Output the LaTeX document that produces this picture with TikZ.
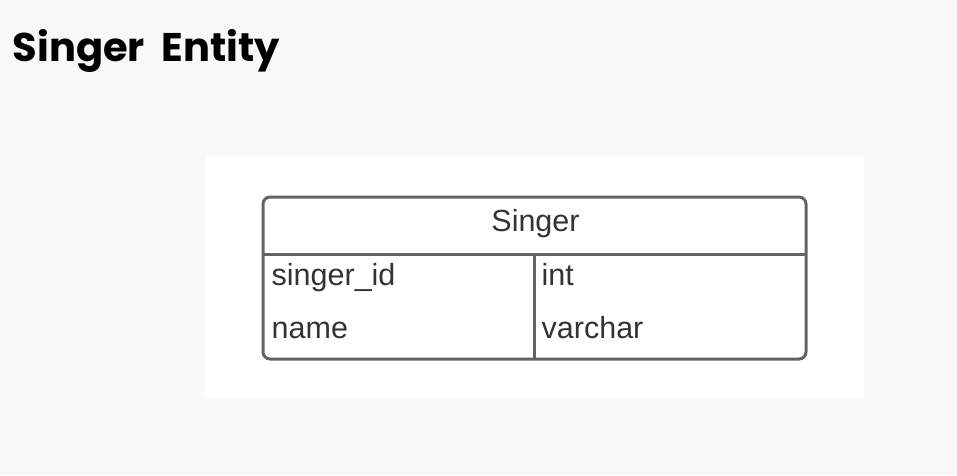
\documentclass[tikz,border=0pt]{standalone}
\usepackage{fontspec}
\setmainfont{Liberation Sans}
\newfontfamily\titlefont{Poppins}
\definecolor{pagebg}{HTML}{F8F8F8}
\definecolor{linegray}{HTML}{646464}
\definecolor{txtgray}{HTML}{333333}
\begin{document}
\begin{tikzpicture}[x=1pt,y=-1pt,
  celltext/.style={anchor=base west,inner sep=0pt,text=txtgray,font=\fontsize{30.5}{36}\selectfont},
  border/.style={draw=linegray,line width=3pt}]
\fill[pagebg] (0,0) rectangle (957,475);
\useasboundingbox (0,0) rectangle (957,475);
\node[anchor=base west,inner sep=0pt,font=\titlefont\bfseries\fontsize{40}{48}\selectfont,text=black] (title) at (12.5,61) {Singer\hspace{8pt} Entity};
\fill[white] (205,156) rectangle (864,398);
\coordinate (tl) at (263,197);
\coordinate (br) at (806,359);
\draw[border,rounded corners=7pt] (tl) rectangle (br);
\coordinate (hl) at (263,254);
\coordinate (hr) at (806,254);
\draw[border] (hl) -- (hr);
\coordinate (vt) at (534,254);
\coordinate (vb) at (534,359);
\draw[border] (vt) -- (vb);
\node[anchor=base,inner sep=0pt,text=txtgray,font=\fontsize{30.5}{36}\selectfont] (hdr) at (535.5,231) {Singer};
\node[celltext] (k1) at (271.5,285) {singer\_id};
\node[celltext] (v1) at (541.5,285) {int};
\node[celltext] (k2) at (271.5,338) {name};
\node[celltext] (v2) at (541.5,338) {varchar};
\end{tikzpicture}
\end{document}
